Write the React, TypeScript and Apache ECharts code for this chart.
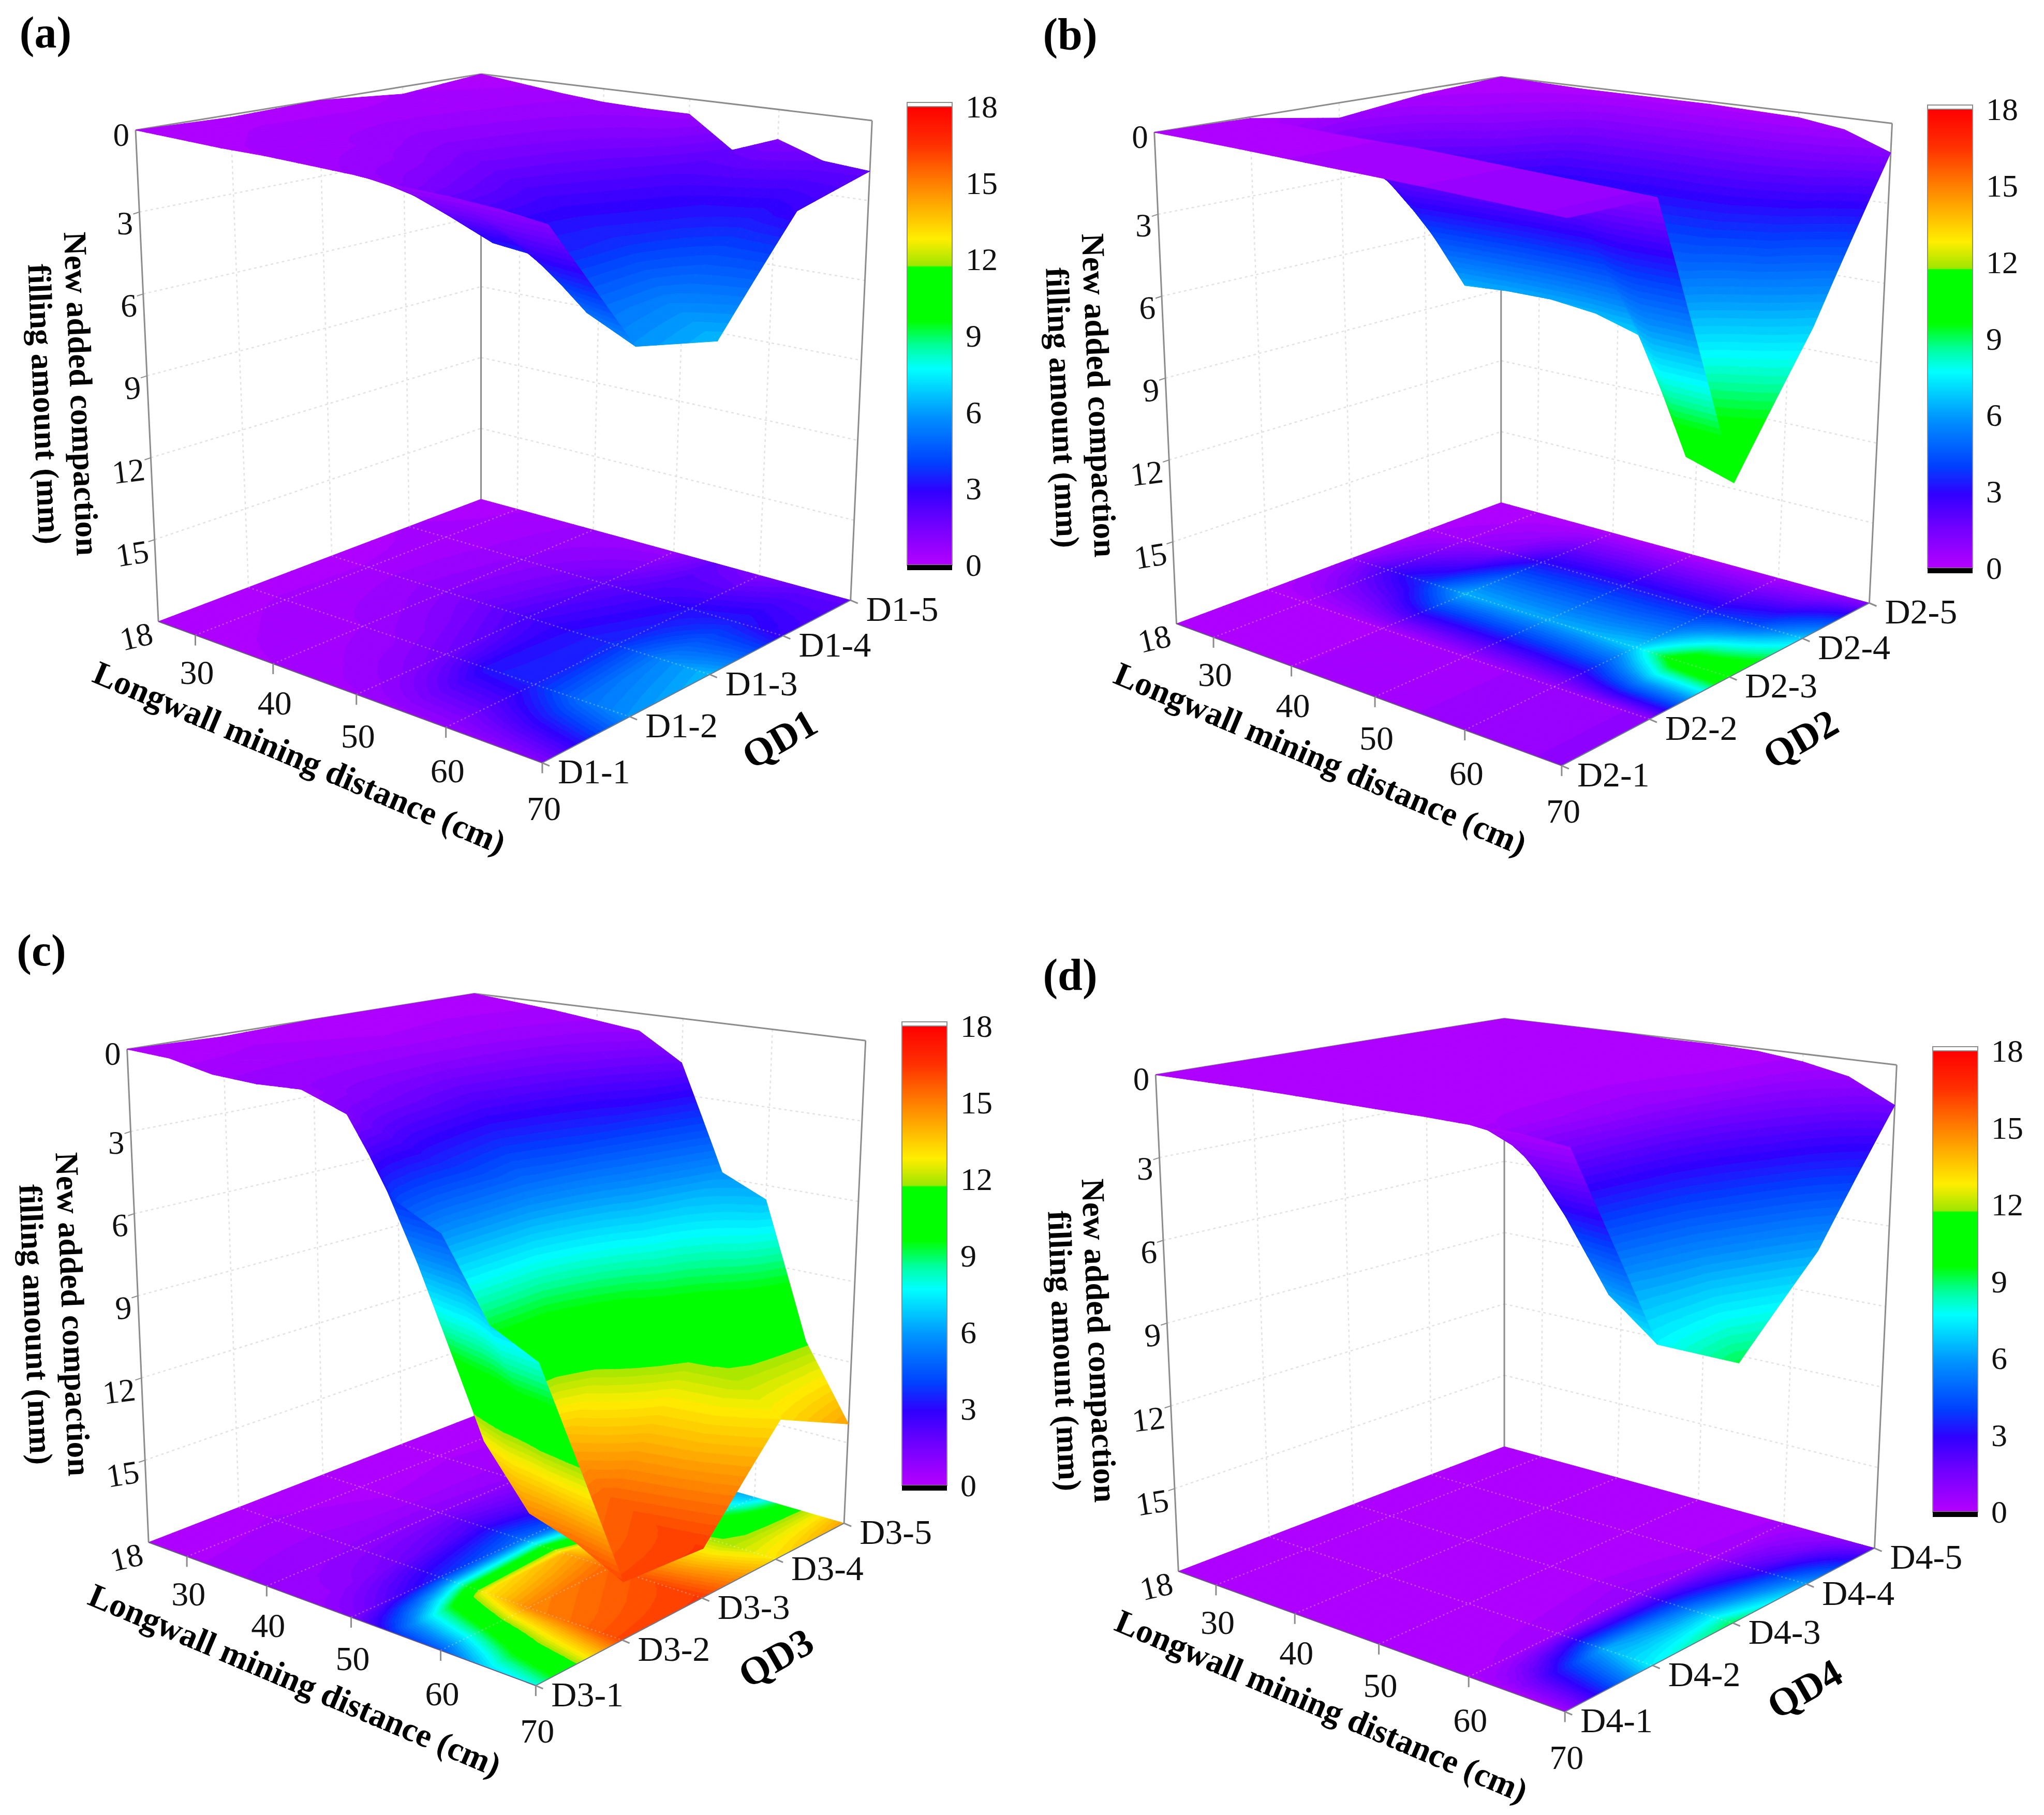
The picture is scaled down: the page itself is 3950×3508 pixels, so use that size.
import React, { useEffect, useRef } from "react";
import * as echarts from "echarts";

// ---------- data ----------
const xGrid = [25, 30, 35, 40, 45, 50, 55, 60, 65, 70];
const xTicks = [30, 40, 50, 60, 70];
const zTicks = [0, 3, 6, 9, 12, 15, 18];
const rowCount = 5;

// rows: Dn-1 ... Dn-5, columns: xGrid
const QD1 = [
  [0, 0.1, 0.2, 0.25, 0.35, 0.45, 0.6, 0.7, 0.85, 1.1],
  [0.1, 0.3, 0.4, 0.5, 0.8, 1.5, 3.2, 3.4, 5.0, 5.8],
  [0, 0.3, 0.6, 1.0, 1.6, 2.4, 3.0, 3.6, 5.5, 6.5],
  [0.3, 0.4, 0.5, 0.8, 1.2, 1.8, 2.4, 3.0, 3.3, 2.7],
  [0, 0.2, 0.4, 0.55, 0.6, 0.6, 1.8, 1.15, 1.75, 1.9],
];
const QD2 = [
  [0, 0.07, 0.15, 0.24, 0.33, 0.41, 0.5, 0.6, 0.7, 0.8],
  [0.05, 0.1, 0.2, 0.25, 0.3, 0.4, 0.5, 0.6, 0.7, 0.8],
  [0.6, 2.4, 3.7, 6.3, 6.2, 6.2, 6.4, 6.9, 10.8, 11.3],
  [0.2, 0.5, 1.2, 3.0, 3.2, 3.3, 3.3, 3.4, 4.2, 6.8],
  [0, 0.05, 0.1, 0.1, 0.1, 0.1, 0.15, 0.2, 0.45, 1.1],
];
const QD3 = [
  [0, 0.1, 0.45, 0.55, 0.5, 1.1, 3.7, 4.5, 7.1, 7.9],
  [0.1, 0.3, 0.5, 0.8, 1.5, 3.5, 12.8, 14.8, 15.3, 16.1],
  [0, 0.1, 0.3, 1.0, 2.5, 5.0, 14.0, 15.5, 16.0, 16.3],
  [0, 0.2, 0.4, 0.8, 1.8, 3.5, 7.7, 11.7, 11.9, 13.0],
  [0, 0.15, 0.3, 0.5, 0.7, 1.75, 5.8, 6.55, 11.6, 14.3],
];
const QD4 = [
  [0, 0, 0, 0.02, 0.05, 0.08, 0.1, 0.15, 0.2, 0.4],
  [0, 0, 0, 0.05, 0.08, 0.1, 0.1, 0.5, 6.2, 7.5],
  [0, 0, 0, 0, 0.05, 0.1, 0.2, 0.8, 5.0, 9.1],
  [0, 0, 0, 0, 0, 0.05, 0.1, 0.4, 2.5, 6.1],
  [0, 0, 0, 0, 0.05, 0.05, 0.1, 0.3, 0.65, 1.5],
];

const colorStops: [number, string][] = [
  [0, "#b400ff"], [1.6, "#7000ff"], [2.9, "#3000ff"], [4, "#0040ff"], [5.8, "#0090ff"],
  [7.7, "#00ffff"], [8.6, "#00ff9c"], [9.6, "#00ff00"], [11.7, "#00ff00"], [11.75, "#9ee600"],
  [12.8, "#ffee00"], [15, "#ff7f00"], [16.5, "#ff3000"], [18, "#ff0000"],
];

const SERIF = '"Liberation Serif"';
const DEG = Math.PI / 180;
const SX = 1975 / 1568;
const zLabelTilt = [0, 0, 3, 5, 7, 9, 13];

// ---------- layout ----------
type Pt = [number, number];
const panels = [
  {
    name: "QD1", prefix: "D1", values: QD1, letter: "(a)", letterAt: [88, 63],
    ox: 0, oy: 0, sy: 1700 / 1568,
    top: [[208, 232], [842, 338], [1338, 215], [738, 132]] as Pt[],
    bot: [[243, 1108], [832, 1360], [1305, 1070], [738, 890]] as Pt[],
    bar: { left: 1753, top: 206, height: 886 },
    xTitle: [579, 1464], qd: [1506, 1428], y1: [157, 761], y2: [86, 781],
  },
  {
    name: "QD2", prefix: "D2", values: QD2, letter: "(b)", letterAt: [2068, 66],
    ox: 1975, oy: 0, sy: 1700 / 1568,
    top: [[203, 236], [837, 343], [1335, 220], [735, 137]] as Pt[],
    bot: [[237, 1112], [828, 1365], [1300, 1075], [735, 896]] as Pt[],
    bar: { left: 3725, top: 211, height: 887 },
    xTitle: [2552, 1466], qd: [3479, 1428], y1: [2124, 764], y2: [2053, 788],
  },
  {
    name: "QD3", prefix: "D3", values: QD3, letter: "(c)", letterAt: [80, 1837],
    ox: 0, oy: 1750, sy: 1758 / 1568,
    top: [[195, 248], [830, 352], [1328, 233], [728, 152]] as Pt[],
    bot: [[228, 1098], [822, 1345], [1295, 1065], [728, 880]] as Pt[],
    bar: { left: 1743, top: 1983, height: 888 },
    xTitle: [570, 3247], qd: [1499, 3204], y1: [141, 2540], y2: [69, 2560],
  },
  {
    name: "QD4", prefix: "D4", values: QD4, letter: "(d)", letterAt: [2068, 1884],
    ox: 1975, oy: 1750, sy: 1758 / 1568,
    top: [[205, 292], [841, 395], [1342, 275], [740, 195]] as Pt[],
    bot: [[240, 1148], [833, 1390], [1308, 1108], [740, 933]] as Pt[],
    bar: { left: 3735, top: 2031, height: 891 },
    xTitle: [2554, 3297], qd: [3487, 3264], y1: [2124, 2591], y2: [2057, 2611],
  },
];
const BAR_W = 87;

// ---------- projection ----------
function homography(q: Pt[]) {
  const [[x0, y0], [x1, y1], [x2, y2], [x3, y3]] = q;
  const dx1 = x1 - x2, dx2 = x3 - x2, sx = x0 - x1 + x2 - x3;
  const dy1 = y1 - y2, dy2 = y3 - y2, sy = y0 - y1 + y2 - y3;
  const den = dx1 * dy2 - dx2 * dy1;
  const g = (sx * dy2 - dx2 * sy) / den;
  const h = (dx1 * sy - sx * dy1) / den;
  const a = x1 - x0 + g * x1, b = x3 - x0 + h * x3;
  const d = y1 - y0 + g * y1, e = y3 - y0 + h * y3;
  return (u: number, v: number): Pt => {
    const w = g * u + h * v + 1;
    return [(a * u + b * v + x0) / w, (d * u + e * v + y0) / w];
  };
}
const { linearMap } = echarts.number as any;
const uOf = (x: number) => linearMap(x, [25, 70], [0, 1]);
const vOf = (row: number) => linearMap(row, [0, rowCount - 1], [0, 1]);
const wOf = (z: number) => linearMap(z, [0, 18], [0, 1]);

function makeProjector(p: (typeof panels)[number]) {
  const toFull = (c: Pt): Pt => [p.ox + c[0] * SX, p.oy + c[1] * p.sy];
  const top = homography(p.top.map(toFull));
  const bot = homography(p.bot.map(toFull));
  return (u: number, v: number, w: number): Pt => {
    const a = top(u, v), b = bot(u, v);
    return [a[0] + (b[0] - a[0]) * w, a[1] + (b[1] - a[1]) * w];
  };
}

// ---------- colours ----------
const LUT: string[] = [];
for (let i = 0; i <= 360; i++) {
  const val = i / 20;
  let k = 0;
  while (k < colorStops.length - 2 && val > colorStops[k + 1][0]) k++;
  const [a, ca] = colorStops[k], [b, cb] = colorStops[k + 1];
  LUT.push((echarts.color as any).lerp(Math.min(1, Math.max(0, (val - a) / (b - a))), [ca, cb]));
}
const colorOf = (z: number) => LUT[Math.max(0, Math.min(360, Math.round(z * 20)))];

// ---------- series helpers ----------
function cellData(values: number[][]) {
  const out: number[][] = [];
  for (let r = rowCount - 2; r >= 0; r--) {
    for (let c = 0; c < xGrid.length - 1; c++) {
      out.push([c, r, values[r][c], values[r][c + 1], values[r + 1][c], values[r + 1][c + 1]]);
    }
  }
  return out;
}

type V = [number, number, number];
function clipBand(poly: V[], limit: number, keepAbove: boolean): V[] {
  const out: V[] = [];
  const inside = (p: V) => (keepAbove ? p[2] >= limit : p[2] <= limit);
  for (let i = 0; i < poly.length; i++) {
    const a = poly[i], b = poly[(i + 1) % poly.length];
    const ia = inside(a), ib = inside(b);
    if (ia) out.push(a);
    if (ia !== ib) {
      const t = (limit - a[2]) / (b[2] - a[2]);
      out.push([a[0] + (b[0] - a[0]) * t, a[1] + (b[1] - a[1]) * t, limit]);
    }
  }
  return out;
}

const BAND = 0.25;
function pushBands(kids: any[], tri: V[]) {
  const lo = Math.min(tri[0][2], tri[1][2], tri[2][2]);
  const hi = Math.max(tri[0][2], tri[1][2], tri[2][2]);
  const first = Math.floor(lo / BAND), last = Math.floor(hi / BAND);
  for (let b = first; b <= last; b++) {
    const a0 = b * BAND, a1 = a0 + BAND;
    let poly = b === first ? tri : clipBand(tri, a0, true);
    if (b !== last) poly = clipBand(poly, a1, false);
    if (poly.length < 3) continue;
    const fill = colorOf(a0 + BAND / 2);
    kids.push({
      type: "polygon", silent: true,
      shape: { points: poly.map((p) => [p[0], p[1]]) },
      style: { fill, stroke: fill, lineWidth: 1 },
    });
  }
}

function meshSeries(project: ReturnType<typeof makeProjector>, values: number[][], flat: boolean, z: number) {
  const N = 4;
  return {
    type: "custom", coordinateSystem: "none", silent: true, z, animation: false,
    data: cellData(values),
    renderItem: (_: any, api: any) => {
      const c = api.value(0), r = api.value(1);
      const z00 = api.value(2), z10 = api.value(3), z01 = api.value(4), z11 = api.value(5);
      const u0 = uOf(xGrid[c]), u1 = uOf(xGrid[c + 1]), v0 = vOf(r), v1 = vOf(r + 1);
      const val = (s: number, t: number) =>
        z00 * (1 - s) * (1 - t) + z10 * s * (1 - t) + z01 * (1 - s) * t + z11 * s * t;
      const pt = (s: number, t: number): V => {
        const zv = val(s, t);
        const q = project(u0 + (u1 - u0) * s, v0 + (v1 - v0) * t, flat ? 1 : wOf(zv));
        return [q[0], q[1], zv];
      };
      const children: any[] = [];
      for (let j = N - 1; j >= 0; j--) {
        for (let i = 0; i < N; i++) {
          const s0 = i / N, s1 = (i + 1) / N, t0 = j / N, t1 = (j + 1) / N;
          const a = pt(s0, t0), b = pt(s1, t0), e = pt(s1, t1), d = pt(s0, t1);
          pushBands(children, [a, d, e]); // farther triangle first
          pushBands(children, [a, b, e]);
        }
      }
      return { type: "group", children };
    },
  };
}

const lineEl = (a: Pt, b: Pt, stroke: string, lineWidth: number, lineDash?: number[]) => ({
  type: "line", silent: true,
  shape: { x1: a[0], y1: a[1], x2: b[0], y2: b[1] },
  style: { stroke, lineWidth, lineDash, fill: null },
});
const textEl = (text: string, x: number, y: number, size: number, align: string, opts: any = {}) => ({
  type: "text", silent: true, x, y, rotation: opts.rotation || 0,
  style: {
    text, fill: "#111", font: `${opts.bold ? "bold " : ""}${size}px ${SERIF}`,
    align, verticalAlign: "middle", textAlign: align, textVerticalAlign: "middle",
  },
});

function wallsSeries(project: ReturnType<typeof makeProjector>) {
  return {
    type: "custom", coordinateSystem: "none", silent: true, z: 1, animation: false, data: [[0]],
    renderItem: () => {
      const kids: any[] = [];
      const GRID = "#e2e2e2", BOX = "#8c8c8c", DASH = [5, 6];
      zTicks.slice(1, -1).forEach((z) => {
        const w = wOf(z);
        kids.push(lineEl(project(0, 0, w), project(0, 1, w), GRID, 2.5, DASH));
        kids.push(lineEl(project(0, 1, w), project(1, 1, w), GRID, 2.5, DASH));
        const a = project(0, 0, w);
        kids.push(lineEl(a, [a[0] - 12, a[1] + 4], BOX, 2));
      });
      for (let r = 1; r < rowCount - 1; r++) {
        kids.push(lineEl(project(0, vOf(r), 0), project(0, vOf(r), 1), GRID, 2.5, DASH));
      }
      xTicks.slice(0, -1).forEach((x) => {
        kids.push(lineEl(project(uOf(x), 1, 0), project(uOf(x), 1, 1), GRID, 2.5, DASH));
      });
      kids.push(lineEl(project(0, 0, 0), project(0, 1, 0), BOX, 3));
      kids.push(lineEl(project(0, 1, 0), project(1, 1, 0), BOX, 3));
      kids.push(lineEl(project(0, 0, 0), project(0, 0, 1), BOX, 3));
      kids.push(lineEl(project(0, 1, 0), project(0, 1, 1), BOX, 3));
      kids.push(lineEl(project(1, 1, 0), project(1, 1, 1), BOX, 3));
      return { type: "group", children: kids };
    },
  };
}

function floorGridSeries(project: ReturnType<typeof makeProjector>) {
  return {
    type: "custom", coordinateSystem: "none", silent: true, z: 3, animation: false, data: [[0]],
    renderItem: () => {
      const kids: any[] = [];
      const C = "rgba(255,255,255,0.3)", DASH = [3, 5];
      for (let r = 1; r < rowCount - 1; r++) {
        kids.push(lineEl(project(0, vOf(r), 1), project(1, vOf(r), 1), C, 2.5, DASH));
      }
      xTicks.slice(0, -1).forEach((x) => {
        kids.push(lineEl(project(uOf(x), 0, 1), project(uOf(x), 1, 1), C, 2.5, DASH));
      });
      kids.push(lineEl(project(0, 0, 1), project(1, 0, 1), "#6a5a80", 2));
      kids.push(lineEl(project(1, 0, 1), project(1, 1, 1), "#6a7a90", 2));
      return { type: "group", children: kids };
    },
  };
}

function labelSeries(project: ReturnType<typeof makeProjector>, prefix: string) {
  return {
    type: "custom", coordinateSystem: "none", silent: true, z: 6, animation: false, data: [[0]],
    renderItem: () => {
      const kids: any[] = [];
      const BOX = "#8c8c8c";
      xTicks.forEach((x) => {
        const u = uOf(x);
        const a = project(u, 0, 1);
        kids.push(lineEl(a, [a[0], a[1] + 20], BOX, 3));
        kids.push(textEl(String(x), a[0] + 3, a[1] + 70 + 18 * u, 66, "center"));
      });
      for (let r = 0; r < rowCount; r++) {
        const a = project(1, vOf(r), 1);
        kids.push(lineEl(a, [a[0] + 14, a[1] + 6], BOX, 3));
        kids.push(textEl(`${prefix}-${r + 1}`, a[0] + 30, a[1] + 17, 68, "left"));
      }
      zTicks.forEach((z, i) => {
        const a = project(0, 0, wOf(z));
        kids.push(
          textEl(String(z), a[0] - 12, a[1] + (i === 0 ? 9 : 22), 63, "right", { rotation: zLabelTilt[i] * DEG })
        );
      });
      return { type: "group", children: kids };
    },
  };
}

function colorbarSeries(i: number) {
  return {
    type: "custom", coordinateSystem: "cartesian2d", xAxisIndex: i, yAxisIndex: i, silent: true, z: 2, animation: false,
    data: [[0, 18, 1, 0]],
    renderItem: (_: any, api: any) => {
      const tl = api.coord([api.value(0), api.value(1)]);
      const br = api.coord([api.value(2), api.value(3)]);
      const w = br[0] - tl[0], h = br[1] - tl[1];
      const stops = colorStops.map(([v, color]) => ({ offset: (18 - v) / 18, color })).reverse();
      return {
        type: "group",
        children: [
          { type: "rect", shape: { x: tl[0], y: tl[1] - 8, width: w, height: 8 }, style: { fill: "#fff", stroke: "#8c8c8c", lineWidth: 2 } },
          { type: "rect", shape: { x: tl[0], y: tl[1], width: w, height: h }, style: { fill: new echarts.graphic.LinearGradient(0, 0, 0, 1, stops), stroke: "#8c8c8c", lineWidth: 2 } },
          { type: "rect", shape: { x: tl[0], y: br[1], width: w, height: 10 }, style: { fill: "#000" } },
        ],
      };
    },
  };
}

function buildOption() {
  const series: any[] = [];
  const graphics: any[] = [];
  panels.forEach((p, i) => {
    const project = makeProjector(p);
    series.push(wallsSeries(project));
    series.push(meshSeries(project, p.values, true, 2));
    series.push(floorGridSeries(project));
    series.push(meshSeries(project, p.values, false, 4));
    series.push(labelSeries(project, p.prefix));
    series.push(colorbarSeries(i));
    const t = (text: string, at: number[], size: number, rotDeg: number) => ({
      type: "text", x: at[0], y: at[1], rotation: rotDeg * DEG, silent: true,
      style: {
        text, fill: "#000", font: `bold ${size}px ${SERIF}`,
        align: "center", verticalAlign: "middle", textAlign: "center", textVerticalAlign: "middle",
      },
    });
    graphics.push(t(p.letter, p.letterAt, 86, 0));
    graphics.push(t("Longwall mining distance (cm)", p.xTitle, 65, -23));
    graphics.push(t(p.name, p.qd, 76, 30));
    graphics.push(t("New added compaction", p.y1, 63, -87.7));
    graphics.push(t("filling amount (mm)", p.y2, 63, -87.7));
  });
  return {
    animation: false,
    backgroundColor: "#fff",
    graphic: { elements: graphics },
    grid: panels.map((p) => ({ left: p.bar.left, top: p.bar.top, width: BAR_W, height: p.bar.height })),
    xAxis: panels.map((_, i) => ({ type: "value", gridIndex: i, min: 0, max: 1, show: false })),
    yAxis: panels.map((_, i) => ({
      type: "value", gridIndex: i, min: 0, max: 18, interval: 3, position: "right",
      axisLine: { show: true, lineStyle: { color: "#777", width: 3 } },
      axisTick: { show: true, length: 10, lineStyle: { color: "#555", width: 3 } },
      splitLine: { show: false },
      axisLabel: { fontFamily: "Liberation Serif", fontSize: 62, color: "#111", margin: 26 },
    })),
    series,
  };
}

export default function App() {
  const ref = useRef<HTMLDivElement>(null);
  useEffect(() => {
    document.body.style.margin = "0";
    const chart = echarts.init(ref.current!, null, { renderer: "svg", width: 3950, height: 3508 });
    chart.setOption(buildOption() as any);
    return () => chart.dispose();
  }, []);
  return <div ref={ref} style={{ width: 3950, height: 3508 }} />;
}
